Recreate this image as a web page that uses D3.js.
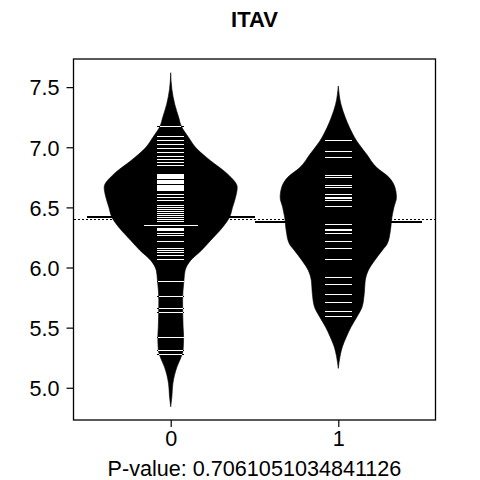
<!DOCTYPE html>
<html>
<head>
<meta charset="utf-8">
<script src="https://cdn.jsdelivr.net/npm/d3@7"></script>
<style>
  body { margin: 0; background: #fff; }
  text { font-family: Arial, "Liberation Sans", sans-serif; fill: #000; }
</style>
</head>
<body>
<svg id="chart" width="480" height="480"></svg>
<script>
// groups and their tick labels
var groups = [1, 2],
    groupLabels = ["0", "1"];

// bean outlines: value (y) and half width (x units)
var bean0Y = [7.62, 7.483, 7.358, 7.247, 7.178, 7.081, 6.998, 6.888, 6.778, 6.667, 6.584, 6.501, 6.418,
              6.335, 6.225, 6.142, 6.059, 5.976, 5.893, 5.727, 5.506, 5.423, 5.313, 5.257, 5.174, 5.036, 4.925, 4.842];
var bean0W = [0, 0.007, 0.024, 0.048, 0.0625, 0.107, 0.149, 0.238, 0.339, 0.397, 0.387, 0.369, 0.351,
              0.310, 0.238, 0.183, 0.119, 0.086, 0.079, 0.071, 0.074, 0.077, 0.074, 0.0625, 0.0375, 0.013, 0.007, 0];
var bean1Y = [7.51, 7.358, 7.247, 7.164, 7.054, 6.944, 6.833, 6.750, 6.667, 6.584, 6.501, 6.418, 6.308,
              6.197, 6.142, 6.059, 5.976, 5.893, 5.783, 5.672, 5.589, 5.506, 5.423, 5.340, 5.257, 5.161];
var bean1W = [0, 0.016, 0.042, 0.067, 0.109, 0.168, 0.228, 0.302, 0.338, 0.347, 0.332, 0.320, 0.311,
              0.292, 0.262, 0.217, 0.179, 0.161, 0.155, 0.142, 0.111, 0.076, 0.048, 0.024, 0.010, 0];

// observations (one beanline each, repeats give longer lines)
var values0 = [7.18, 7.09, 7.06, 7.03, 6.99, 6.96, 6.93, 6.90, 6.88, 6.85,
               6.780, 6.772, 6.763, 6.755, 6.747, 6.730, 6.722, 6.714, 6.706, 6.689, 6.681, 6.673, 6.664, 6.656, 6.648,
               6.61, 6.59, 6.56, 6.52, 6.50, 6.49, 6.47, 6.455, 6.44, 6.42, 6.40, 6.39, 6.355, 6.355,
               6.33, 6.32, 6.31, 6.29, 6.27, 6.22, 6.16, 6.145, 6.13, 6.10, 6.07,
               5.885, 5.76, 5.66, 5.63, 5.42, 5.31, 5.285];
var values1 = [7.06, 6.97, 6.92, 6.77, 6.755, 6.69, 6.67, 6.61, 6.59, 6.575, 6.56, 6.51,
               6.36, 6.32, 6.31, 6.29, 6.22, 6.16, 6.07, 5.92, 5.86, 5.78, 5.71, 5.64, 5.60];

var beanMeans = [6.418, 6.382],
    overallMean = 6.40;

var yTicks = [5.0, 5.5, 6.0, 6.5, 7.0, 7.5];

var title = "ITAV",
    xLabel = "P-value: 0.7061051034841126";

var beanY = [bean0Y, bean1Y],
    beanW = [bean0W, bean1W],
    beanValues = [values0, values1];

var lineLen = 0.08,   // half length of one beanline
    meanHalf = 0.5;

var box = { left: 73.5, right: 435.5, top: 59, bottom: 420 };

var svg = d3.select("#chart");

var x = d3.scaleLinear().domain([0.42, 2.58]).range([box.left, box.right]);
var y = d3.scaleLinear().domain([4.732, 7.734]).range([box.bottom, box.top]);

// overall average line (dotted)
svg.append("line")
    .attr("x1", box.left).attr("x2", box.right)
    .attr("y1", Math.round(y(overallMean)) + 0.5).attr("y2", Math.round(y(overallMean)) + 0.5)
    .attr("stroke", "#000")
    .attr("stroke-width", 1)
    .attr("stroke-dasharray", "2,2")
    .attr("shape-rendering", "crispEdges");

function halfWidthAt(i, v) {
    var ys = beanY[i], ws = beanW[i];
    if (v >= ys[0] || v <= ys[ys.length - 1]) return 0;
    for (var k = 0; k < ys.length - 1; k++) {
        if (v <= ys[k] && v >= ys[k + 1]) {
            var t = (ys[k] - v) / (ys[k] - ys[k + 1]);
            return ws[k] + t * (ws[k + 1] - ws[k]);
        }
    }
    return 0;
}

groups.forEach(function (g, i) {
    var pts = beanY[i].map(function (v, k) { return { v: v, w: beanW[i][k] }; });

    var area = d3.area()
        .curve(d3.curveMonotoneY)
        .y(d => y(d.v))
        .x0(d => x(g - d.w))
        .x1(d => x(g + d.w));

    svg.append("path")
        .attr("class", "bean")
        .attr("d", area(pts))
        .attr("fill", "#000")
        .attr("stroke", "#000")
        .attr("stroke-width", 0.6);

    // bean average line
    var my = Math.round(y(beanMeans[i]));
    svg.append("line")
        .attr("x1", x(g - meanHalf)).attr("x2", x(g + meanHalf))
        .attr("y1", my).attr("y2", my)
        .attr("stroke", "#000")
        .attr("stroke-width", 2)
        .attr("shape-rendering", "crispEdges");

    // beanlines: white inside the bean, black outside
    var counts = d3.rollups(beanValues[i], v => v.length, d => d);
    var bl = svg.append("g").attr("class", "beanlines");
    counts.forEach(function (c) {
        var v = c[0], n = c[1];
        var L = lineLen * n,
            h = Math.min(L, halfWidthAt(i, v)),
            ly = Math.round(y(v)) + 0.5;
        bl.append("line")
            .attr("x1", x(g - L)).attr("x2", x(g + L))
            .attr("y1", ly).attr("y2", ly)
            .attr("stroke", "#000").attr("stroke-width", 1)
            .attr("shape-rendering", "crispEdges");
        bl.append("line")
            .attr("x1", x(g - h)).attr("x2", x(g + h))
            .attr("y1", ly).attr("y2", ly)
            .attr("stroke", "#fff").attr("stroke-width", 1)
            .attr("shape-rendering", "crispEdges");
    });
});

// box
svg.append("rect")
    .attr("x", box.left).attr("y", box.top)
    .attr("width", box.right - box.left).attr("height", box.bottom - box.top)
    .attr("fill", "none")
    .attr("stroke", "#000")
    .attr("stroke-width", 1.3);

// y axis
var yAxis = d3.axisLeft(y)
    .tickValues(yTicks)
    .tickFormat(d3.format(".1f"))
    .tickSize(7)
    .tickSizeOuter(0);

var gy = svg.append("g")
    .attr("transform", "translate(" + box.left + ",0)")
    .call(yAxis);
gy.select(".domain").remove();
gy.selectAll("line").attr("stroke", "#000").attr("stroke-width", 1.2);
gy.selectAll("text")
    .attr("x", -14)
    .attr("dy", "0.36em")
    .style("font-size", "21.6px")
    .style("font-family", "Arial, 'Liberation Sans', sans-serif");

// x axis
var xAxis = d3.axisBottom(x)
    .tickValues(groups)
    .tickFormat((d, i) => groupLabels[i])
    .tickSize(7)
    .tickSizeOuter(0);

var gx = svg.append("g")
    .attr("transform", "translate(0," + box.bottom + ")")
    .call(xAxis);
gx.select(".domain").remove();
gx.selectAll("line").attr("stroke", "#000").attr("stroke-width", 1.2);
gx.selectAll("text")
    .attr("y", 11)
    .attr("dy", "0.71em")
    .style("font-size", "21.6px")
    .style("font-family", "Arial, 'Liberation Sans', sans-serif");

// title and x label
svg.append("text")
    .attr("x", (box.left + box.right) / 2)
    .attr("y", 27)
    .attr("text-anchor", "middle")
    .style("font-size", "22px")
    .style("font-weight", "bold")
    .text(title);

svg.append("text")
    .attr("x", (box.left + box.right) / 2)
    .attr("y", 476)
    .attr("text-anchor", "middle")
    .style("font-size", "21.6px")
    .text(xLabel);
</script>
</body>
</html>
